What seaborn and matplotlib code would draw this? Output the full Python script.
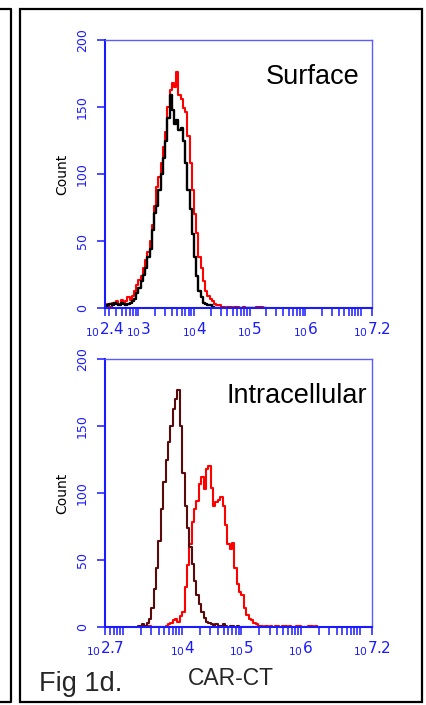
import numpy as np
import pandas as pd
import matplotlib
matplotlib.use("Agg")
import matplotlib.pyplot as plt
from matplotlib.lines import Line2D
from matplotlib.patches import Rectangle
from matplotlib.ticker import FixedLocator, LogLocator, NullFormatter
import seaborn as sns

# -----------------------------
# Data (log10 channel positions and counts)
# -----------------------------
surface_log_start = 2.42
surface_counts_black = [
    1, 2, 3, 2, 4, 3, 2, 4, 3, 2, 3, 4, 5, 7, 11, 15, 20, 25, 30, 38,
    44, 58, 71, 76, 88, 100, 112, 125, 142, 159, 148, 137, 140, 133, 134, 125, 108, 88, 74, 55,
    38, 24, 13, 8, 4, 3, 2, 2, 1, 0, 0, 0, 0, 0, 0, 0, 0, 0, 0, 0,
    0, 0, 0, 0, 0, 0, 0, 0, 0, 0, 0, 0, 0,
]
surface_counts_red = [
    2, 3, 1, 4, 3, 5, 3, 6, 4, 5, 8, 6, 9, 13, 17, 21, 24, 30, 36, 42,
    50, 62, 76, 90, 98, 108, 120, 131, 150, 163, 168, 165, 176, 159, 156, 149, 146, 128, 108, 88,
    70, 56, 38, 30, 20, 13, 9, 7, 5, 3, 2, 2, 1, 1, 0, 1, 1, 0, 1, 1,
    0, 0, 1, 0, 0, 0, 0, 0, 1, 1, 1, 0, 0,
]

intra_log_start = 3.26
intra_counts_dark = [
    1, 1, 2, 1, 3, 6, 14, 28, 44, 64, 88, 108, 125, 138, 150, 163, 170, 177, 150, 115,
    90, 74, 60, 47, 34, 24, 17, 11, 7, 4, 3, 2, 1, 2, 1, 1, 2, 1, 0, 1,
    1, 0, 1, 0, 0, 0, 0, 0, 0, 0, 0, 0, 0, 0, 0, 0, 0, 0, 0, 0,
    0, 0, 0, 0, 0, 0, 0, 0, 0, 0, 0, 0, 0, 0, 0, 0, 0,
]
intra_counts_red = [
    0, 0, 0, 1, 1, 1, 0, 0, 0, 0, 0, 0, 1, 2, 3, 5, 6, 4, 8, 11,
    30, 46, 62, 78, 88, 94, 107, 112, 103, 118, 120, 104, 90, 93, 95, 97, 90, 76, 62, 58,
    63, 44, 32, 26, 24, 14, 9, 6, 5, 3, 2, 1, 1, 0, 1, 0, 1, 0, 1, 1,
    0, 1, 1, 0, 1, 0, 0, 1, 1, 0, 0, 0, 1, 1, 0, 1, 0,
]
LOG_STEP = 0.04

panel_titles = ["Surface", "Intracellular"]
x_ranges = [(2.4, 7.2), (2.7, 7.2)]
y_ticks = [0, 50, 100, 150, 200]

# -----------------------------
# Style
# -----------------------------
BLUE = "#1a1aff"
W, H = 427, 705

sns.set_style("ticks")
plt.rcParams["font.family"] = ["DejaVu Sans"]
plt.rcParams["mathtext.fontset"] = "dejavusans"


def make_df(start, counts):
    logs = start + LOG_STEP * np.arange(len(counts))
    return pd.DataFrame({"x": 10 ** logs, "count": counts})


def fmt_exp(v):
    return r"$_{10}$" + f"{v:g}"


def style_axis(ax, lo, hi):
    ax.set_xscale("log")
    ax.set_xlim(10 ** lo, 10 ** hi)
    ax.set_ylim(0, 200)

    # decade labels, skipping one that would crowd the start label
    majors = [lo] + [d for d in range(int(np.ceil(lo)), 7) if d - lo > 0.5] + [hi]
    ax.xaxis.set_major_locator(FixedLocator([10 ** m for m in majors]))
    ax.set_xticklabels([fmt_exp(m) for m in majors])
    ax.xaxis.set_minor_locator(LogLocator(base=10, subs=np.arange(1, 10), numticks=50))
    ax.xaxis.set_minor_formatter(NullFormatter())

    ax.set_yticks(y_ticks)
    ax.set_yticklabels([str(t) for t in y_ticks], rotation=90, va="center")

    ax.tick_params(axis="x", which="major", direction="out", length=6, width=1.1,
                   color=BLUE, labelcolor=BLUE, labelsize=11, pad=2.5)
    ax.tick_params(axis="x", which="minor", direction="out", length=5.5, width=1.1,
                   color=BLUE)
    ax.tick_params(axis="y", which="major", direction="out", length=5.5, width=1.1,
                   color=BLUE, labelcolor=BLUE, labelsize=9, pad=6)

    for side in ["left", "bottom"]:
        ax.spines[side].set_color(BLUE)
        ax.spines[side].set_linewidth(1.5)
    for side in ["top", "right"]:
        ax.spines[side].set_visible(True)
        ax.spines[side].set_color("#5c5cff")
        ax.spines[side].set_linewidth(1.0)

    ax.set_xlabel("")
    ax.set_ylabel("Count", fontsize=10, color="black")
    ax.yaxis.set_label_coords(-0.135, 0.5)


fig = plt.figure(figsize=(W / 100, H / 100), dpi=100)
ax_top = fig.add_axes([105 / W, 1 - 308 / H, 267 / W, 268 / H])
ax_bot = fig.add_axes([105 / W, 1 - 627 / H, 267 / W, 268 / H])

# top panel: surface staining
df = make_df(surface_log_start, surface_counts_red)
sns.lineplot(data=df, x="x", y="count", ax=ax_top, color="#ff0000",
             linewidth=1.5, drawstyle="steps-mid", estimator=None)
df = make_df(surface_log_start, surface_counts_black)
sns.lineplot(data=df, x="x", y="count", ax=ax_top, color="black",
             linewidth=1.7, drawstyle="steps-mid", estimator=None)

# bottom panel: intracellular staining
df = make_df(intra_log_start, intra_counts_red)
sns.lineplot(data=df, x="x", y="count", ax=ax_bot, color="#ff0000",
             linewidth=1.5, drawstyle="steps-mid", estimator=None)
df = make_df(intra_log_start, intra_counts_dark)
sns.lineplot(data=df, x="x", y="count", ax=ax_bot, color="#5a0a0a",
             linewidth=1.5, drawstyle="steps-mid", estimator=None)

for ax, (lo, hi), title, tx in zip([ax_top, ax_bot], x_ranges, panel_titles, [0.955, 0.981]):
    style_axis(ax, lo, hi)
    ax.text(tx, 0.836, title, transform=ax.transAxes, ha="right", va="baseline",
            fontsize=19.5, family="Liberation Sans", color="black")

fig.text(39 / W, 1 - 691 / H, "Fig 1d.", ha="left", va="baseline",
         fontsize=19.5, family="Liberation Sans")
fig.text(188 / W, 1 - 685 / H, "CAR-CT", ha="left", va="baseline",
         fontsize=16.5, family="Liberation Sans")

# frames around the figure panel and the neighbouring one
fig.add_artist(Rectangle((20 / W, 1 - 702 / H), 402 / W, 693 / H, transform=fig.transFigure,
                         fill=False, edgecolor="black", linewidth=1.6))
fig.add_artist(Line2D([0, 11 / W, 11 / W, 0], [1 - 9 / H, 1 - 9 / H, 1 - 702 / H, 1 - 702 / H],
                      transform=fig.transFigure, color="black", linewidth=1.6))

fig.savefig("out.png", dpi=100, facecolor="white")
